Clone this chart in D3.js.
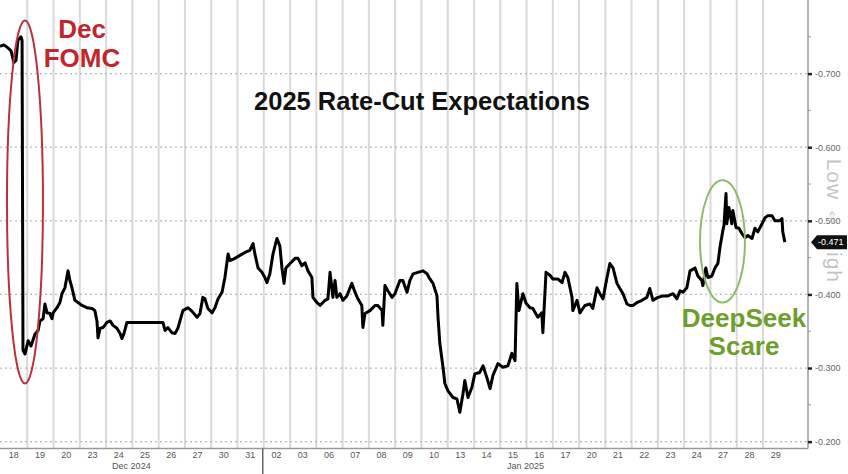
<!DOCTYPE html>
<html><head><meta charset="utf-8">
<script src="https://cdn.jsdelivr.net/npm/d3@7"></script>
<style>
html,body{margin:0;padding:0;background:#fff;}
svg{display:block;font-family:"Liberation Sans",Arial,sans-serif;}
</style></head>
<body>
<svg id="chart" width="848" height="474"></svg>
<script>
// ---- data ----
const dayLabels = ["18","19","20","23","24","25","26","27","30","31","02","03","06","07","08","09","10","13","14","15","16","17","20","21","22","23","24","27","28","29"];
const monthLabels = ["Dec 2024","Jan 2025"];
const monthStartDay = [0, 10];
const monthEndDay = [10, 30];
const yTicks = [-0.7,-0.6,-0.5,-0.4,-0.3,-0.2];
const yMinorTicks = [-0.75,-0.65,-0.55,-0.45,-0.35,-0.25];
const lastValue = -0.471;
// time in trading-day units (0 = start of 18 Dec session)
const seriesT = [0.00,0.15,0.30,0.42,0.53,0.61,0.68,0.80,0.84,0.875,0.95,1.07,1.18,1.33,1.45,1.52,1.64,1.71,1.79,1.90,1.98,2.02,2.17,2.28,2.36,2.47,2.59,2.66,2.74,2.85,2.97,3.12,3.31,3.50,3.61,3.69,3.73,3.81,3.92,4.07,4.19,4.30,4.45,4.57,4.64,4.72,4.83,6.20,6.28,6.39,6.54,6.66,6.77,6.85,6.96,7.15,7.31,7.50,7.61,7.72,7.80,7.91,8.07,8.18,8.30,8.45,8.56,8.68,8.75,8.94,9.13,9.32,9.51,9.63,9.70,9.82,9.97,10.08,10.16,10.27,10.39,10.54,10.65,10.73,10.81,10.88,11.04,11.23,11.34,11.49,11.61,11.72,11.87,11.91,12.06,12.18,12.37,12.48,12.56,12.67,12.75,12.82,12.94,13.05,13.20,13.39,13.51,13.62,13.77,13.81,13.89,14.08,14.27,14.38,14.54,14.57,14.65,14.76,14.92,15.03,15.22,15.33,15.49,15.60,15.72,15.91,16.10,16.25,16.36,16.48,16.63,16.67,16.74,16.86,16.93,17.05,17.24,17.39,17.50,17.62,17.69,17.81,17.96,18.07,18.26,18.38,18.53,18.65,18.76,18.95,19.14,19.33,19.48,19.60,19.67,19.75,19.90,20.02,20.17,20.28,20.47,20.62,20.66,20.78,20.93,21.04,21.23,21.39,21.50,21.61,21.77,21.80,21.96,22.07,22.26,22.45,22.56,22.72,22.83,22.95,23.10,23.21,23.33,23.48,23.59,23.71,23.86,23.97,24.09,24.24,24.43,24.62,24.73,24.85,25.04,25.23,25.42,25.61,25.76,25.88,25.99,26.14,26.26,26.45,26.56,26.71,26.75,26.86,26.94,27.09,27.21,27.32,27.40,27.51,27.55,27.63,27.66,27.74,27.85,27.89,28.01,28.12,28.23,28.35,28.46,28.62,28.73,28.84,29.00,29.11,29.22,29.38,29.49,29.68,29.76,29.79,29.87];
const seriesV = [-0.737,-0.739,-0.735,-0.731,-0.715,-0.718,-0.745,-0.750,-0.745,-0.324,-0.319,-0.337,-0.330,-0.346,-0.351,-0.364,-0.367,-0.387,-0.375,-0.374,-0.367,-0.375,-0.382,-0.389,-0.401,-0.409,-0.432,-0.419,-0.409,-0.392,-0.389,-0.385,-0.382,-0.381,-0.378,-0.364,-0.341,-0.354,-0.355,-0.362,-0.364,-0.358,-0.354,-0.347,-0.340,-0.347,-0.362,-0.362,-0.351,-0.355,-0.348,-0.347,-0.354,-0.364,-0.378,-0.382,-0.377,-0.369,-0.374,-0.396,-0.394,-0.381,-0.375,-0.382,-0.394,-0.403,-0.423,-0.455,-0.446,-0.449,-0.453,-0.457,-0.460,-0.469,-0.455,-0.436,-0.430,-0.423,-0.416,-0.428,-0.455,-0.476,-0.466,-0.436,-0.415,-0.436,-0.442,-0.449,-0.449,-0.439,-0.443,-0.432,-0.423,-0.396,-0.389,-0.385,-0.392,-0.394,-0.430,-0.396,-0.419,-0.396,-0.401,-0.392,-0.398,-0.415,-0.403,-0.394,-0.385,-0.355,-0.374,-0.378,-0.385,-0.385,-0.378,-0.358,-0.412,-0.405,-0.396,-0.401,-0.419,-0.419,-0.403,-0.419,-0.428,-0.430,-0.432,-0.428,-0.421,-0.415,-0.398,-0.369,-0.333,-0.301,-0.279,-0.269,-0.260,-0.258,-0.240,-0.265,-0.283,-0.260,-0.274,-0.292,-0.294,-0.303,-0.287,-0.272,-0.290,-0.306,-0.301,-0.303,-0.320,-0.310,-0.415,-0.378,-0.401,-0.388,-0.382,-0.381,-0.369,-0.375,-0.348,-0.430,-0.426,-0.421,-0.421,-0.416,-0.430,-0.423,-0.396,-0.378,-0.392,-0.375,-0.385,-0.387,-0.381,-0.409,-0.401,-0.394,-0.423,-0.442,-0.436,-0.415,-0.408,-0.401,-0.387,-0.385,-0.385,-0.389,-0.392,-0.396,-0.408,-0.392,-0.396,-0.398,-0.398,-0.401,-0.394,-0.405,-0.403,-0.409,-0.432,-0.436,-0.425,-0.419,-0.412,-0.436,-0.423,-0.425,-0.436,-0.442,-0.464,-0.487,-0.493,-0.537,-0.496,-0.518,-0.496,-0.514,-0.491,-0.490,-0.483,-0.477,-0.480,-0.476,-0.490,-0.485,-0.496,-0.504,-0.507,-0.507,-0.500,-0.500,-0.503,-0.485,-0.471];

// ---- layout ----
const W = 848, H = 474;
const plotRight = 808, plotBottom = 448.5;
const svg = d3.select("#chart");
const x = d3.scaleLinear().domain([0, 30.75]).range([0, plotRight]);
const y = d3.scaleLinear().domain([-0.8, -0.19]).range([0, 449]);

// vertical day separators
svg.append("g").selectAll("line").data(d3.range(1, dayLabels.length)).join("line")
  .attr("x1", d => x(d) + 1).attr("x2", d => x(d) + 1)
  .attr("y1", 0).attr("y2", plotBottom)
  .attr("stroke", "#d9d9d9").attr("stroke-width", 2);

// horizontal dotted grid
svg.append("g").selectAll("line").data(yTicks).join("line")
  .attr("x1", 0).attr("x2", plotRight)
  .attr("y1", d => y(d)).attr("y2", d => y(d))
  .attr("stroke", "#b8b8b8").attr("stroke-width", 1.3).attr("stroke-dasharray", "2,3");

// frame lines
svg.append("line").attr("x1", plotRight).attr("x2", plotRight).attr("y1", 0).attr("y2", plotBottom)
  .attr("stroke", "#9a9a9a").attr("stroke-width", 1.5);
svg.append("line").attr("x1", 0).attr("x2", plotRight).attr("y1", plotBottom).attr("y2", plotBottom)
  .attr("stroke", "#9a9a9a").attr("stroke-width", 1.5);

// right axis
const yAxis = d3.axisRight(y).tickValues(yTicks).tickFormat(d => d.toFixed(3)).tickSize(4).tickPadding(3);
const gy = svg.append("g").attr("transform", `translate(${plotRight},0)`).call(yAxis);
gy.select(".domain").remove();
gy.selectAll(".tick line").attr("stroke", "#222").attr("stroke-width", 2.5);
gy.selectAll(".tick text").attr("fill", "#666").attr("font-size", 9).attr("font-family", "Liberation Sans, Arial, sans-serif");
svg.append("g").selectAll("line").data(yMinorTicks).join("line")
  .attr("x1", plotRight).attr("x2", plotRight + 3)
  .attr("y1", d => y(d)).attr("y2", d => y(d))
  .attr("stroke", "#999").attr("stroke-width", 1);

// Low <-> High label
svg.append("text")
  .attr("transform", `translate(${plotRight + 19},${y(-0.5)}) rotate(90)`)
  .attr("text-anchor", "middle").attr("fill", "#c4c4c4")
  .attr("font-size", 21).attr("letter-spacing", 1)
  .text("Low \u21D4 High");

// last value tag
const ly = y(lastValue);
svg.append("path")
  .attr("d", `M${plotRight+3},${ly} L${plotRight+9},${ly-7} L${W-1},${ly-7} L${W-1},${ly+7} L${plotRight+9},${ly+7} Z`)
  .attr("fill", "#111");
svg.append("text").attr("x", plotRight + 10).attr("y", ly + 3.3)
  .attr("fill", "#fff").attr("font-size", 9).text(lastValue.toFixed(3));

// bottom axis
const xAxis = d3.axisBottom(x).tickValues(d3.range(dayLabels.length).map(i => i + 0.5))
  .tickFormat((d, i) => dayLabels[i]).tickSize(0).tickPadding(3);
const gx = svg.append("g").attr("transform", `translate(0,${plotBottom})`).call(xAxis);
gx.select(".domain").remove();
gx.selectAll(".tick text").attr("fill", "#555").attr("font-size", 9);

svg.append("g").selectAll("text").data(monthLabels).join("text")
  .attr("x", (d, i) => x((monthStartDay[i] + monthEndDay[i]) / 2))
  .attr("y", 469).attr("text-anchor", "middle").attr("fill", "#555").attr("font-size", 9)
  .text(d => d);
svg.append("line").attr("x1", x(monthStartDay[1])).attr("x2", x(monthStartDay[1]))
  .attr("y1", plotBottom).attr("y2", H).attr("stroke", "#666").attr("stroke-width", 1.5);

// series line
const line = d3.line().x((d, i) => x(seriesT[i])).y(d => y(d)).curve(d3.curveLinear);
svg.append("path").datum(seriesV).attr("d", line)
  .attr("fill", "none").attr("stroke", "#000").attr("stroke-width", 3)
  .attr("stroke-linejoin", "round");

// title
svg.append("text").attr("x", 422).attr("y", 110).attr("text-anchor", "middle")
  .attr("font-size", 25.5).attr("font-weight", "bold").attr("fill", "#111")
  .text("2025 Rate-Cut Expectations");

// annotations
svg.append("ellipse")
  .attr("cx", x(0.95)).attr("cy", (y(-0.772) + y(-0.279)) / 2)
  .attr("rx", 18).attr("ry", (y(-0.279) - y(-0.772)) / 2)
  .attr("fill", "none").attr("stroke", "#b8323c").attr("stroke-width", 2);
const fomc = svg.append("text").attr("text-anchor", "middle").attr("font-size", 26)
  .attr("font-weight", "bold").attr("fill", "#c0262d");
fomc.append("tspan").attr("x", 82).attr("y", 38).text("Dec");
fomc.append("tspan").attr("x", 82).attr("y", 67).text("FOMC");

svg.append("ellipse")
  .attr("cx", (x(26.64) + x(28.35)) / 2).attr("cy", (y(-0.555) + y(-0.389)) / 2)
  .attr("rx", (x(28.35) - x(26.64)) / 2).attr("ry", (y(-0.389) - y(-0.555)) / 2)
  .attr("fill", "none").attr("stroke", "#8dbb6c").attr("stroke-width", 2);
const ds = svg.append("text").attr("text-anchor", "middle").attr("font-size", 26)
  .attr("font-weight", "bold").attr("fill", "#6f9e2c");
ds.append("tspan").attr("x", 744).attr("y", 327).text("DeepSeek");
ds.append("tspan").attr("x", 744).attr("y", 355).text("Scare");
</script>
</body></html>
